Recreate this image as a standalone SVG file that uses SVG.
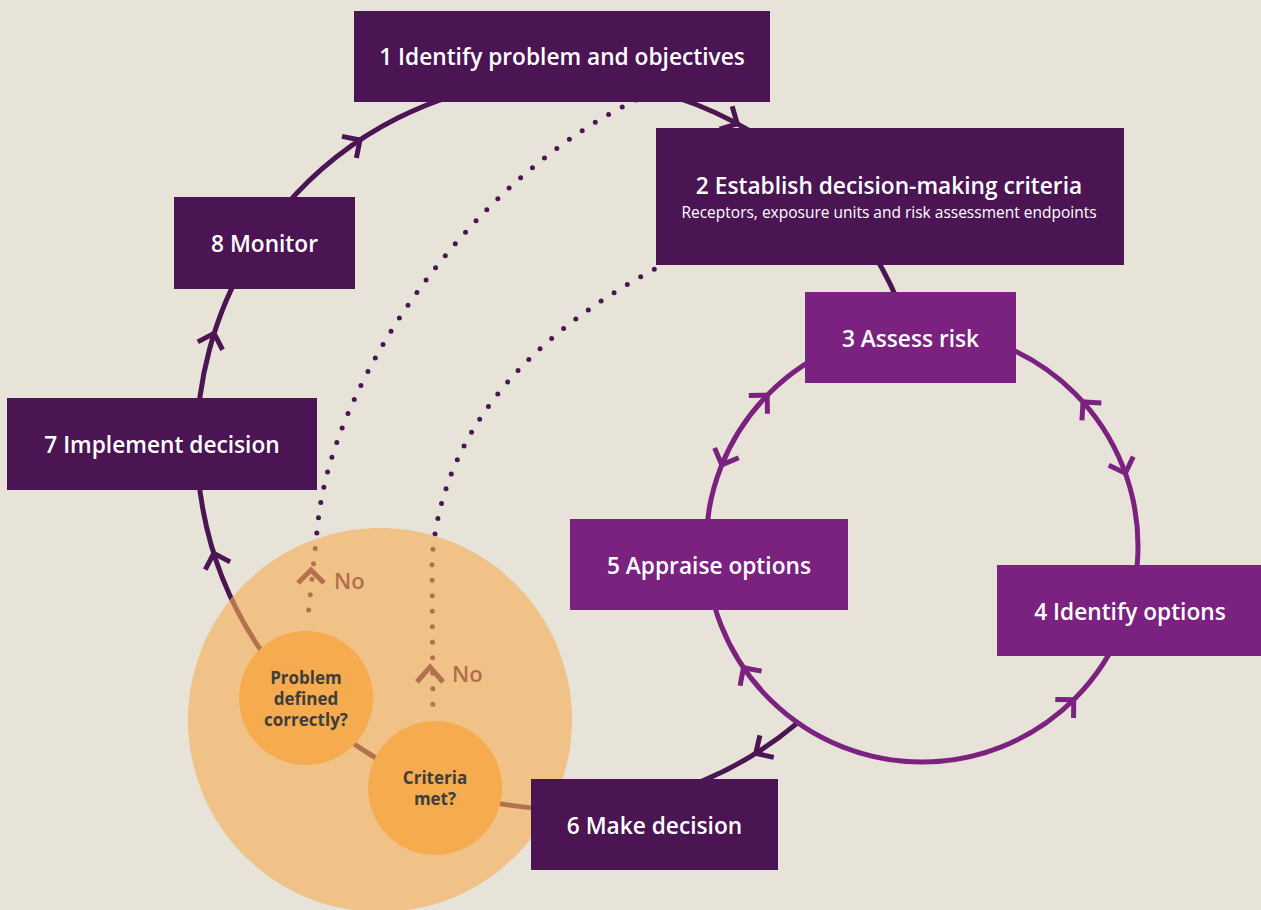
<svg xmlns="http://www.w3.org/2000/svg" xmlns:xlink="http://www.w3.org/1999/xlink" width="1261" height="910" viewBox="0 0 1261 910">
<style>
.bg{fill:#e7e3d8}
.dark{fill:#4b1553}
.purp{fill:#7b2281}
.ttl{font-family:"Open Sans","Liberation Sans",sans-serif;font-weight:600;font-size:22.7px;fill:#ffffff;text-anchor:middle}
.sub{font-family:"Open Sans","Liberation Sans",sans-serif;font-weight:400;font-size:15.5px;fill:#ffffff;text-anchor:middle}
.q{font-family:"Open Sans","Liberation Sans",sans-serif;font-weight:700;font-size:17px;fill:#3d3d3d;text-anchor:middle}
.no{font-family:"Open Sans","Liberation Sans",sans-serif;font-weight:600;font-size:22px;fill:#b36d4e}
.lnd{fill:none;stroke:#4b1553;stroke-width:5}
.lnp{fill:none;stroke:#7b2281;stroke-width:5}
.lnb{fill:none;stroke:#b5714e;stroke-width:5}
.dotd{fill:none;stroke:#4b1553;stroke-width:5;stroke-linecap:round;stroke-dasharray:0 15.5}
.dotb{fill:none;stroke:#b5714e;stroke-width:5;stroke-linecap:round;stroke-dasharray:0 15.5}
.ad{fill:none;stroke:#4b1553;stroke-width:5}
.ap{fill:none;stroke:#7b2281;stroke-width:5}
.ab{fill:none;stroke:#b5714e;stroke-width:5}
</style>
<defs>
<path id="chev" d="M-13,-13 L0,0 L-13,13"/>
<clipPath id="orangeClip"><circle cx="380" cy="720" r="192"/></clipPath>
</defs>
<rect class="bg" x="0" y="0" width="1261" height="910"/>
<g id="connectors">
<path class="lnd" d="M905,319.2 A365,365 0 1 0 796.6,723.6"/>
<circle class="lnp" cx="922" cy="546" r="216"/>
<path id="dot1" class="dotd" d="M636,100 C470,180 333,380 318,522 L307,625"/>
<path id="dot2" class="dotd" d="M668,262 C545,325 442,420 432,560 L433,716"/>
<use href="#chev" class="ad" transform="translate(360,140) rotate(-33.6)"/>
<use href="#chev" class="ad" transform="translate(737.3,123.9) rotate(28.7)"/>
<use href="#chev" class="ad" transform="translate(214.1,333.4) rotate(-72.36)"/>
<use href="#chev" class="ad" transform="translate(213.8,553.4) rotate(252.56)"/>
<use href="#chev" class="ad" transform="translate(755.8,753.3) rotate(147.93)"/>
<use href="#chev" class="ap" transform="translate(767.2,395.3) rotate(-45.75)"/>
<use href="#chev" class="ap" transform="translate(721.8,464.9) rotate(112.05)"/>
<use href="#chev" class="ap" transform="translate(1083,402) rotate(-131.79)"/>
<use href="#chev" class="ap" transform="translate(1125.4,473.2) rotate(70.31)"/>
<use href="#chev" class="ap" transform="translate(743.5,667.7) rotate(235.72)"/>
<use href="#chev" class="ap" transform="translate(1073.7,699.7) rotate(-44.62)"/>
</g>
<g id="decision-zone">
<circle cx="380" cy="720" r="192" fill="#f0c287"/>
<g clip-path="url(#orangeClip)">
<path class="lnb" d="M905,319.2 A365,365 0 1 0 796.6,723.6"/>
<path class="dotb" d="M636,100 C470,180 333,380 318,522 L307,625"/>
<path class="dotb" d="M668,262 C545,325 442,420 432,560 L433,716"/>
</g>
<path class="ab" d="M298,583 L311,570 L324,583"/>
<path class="ab" d="M417,682 L430,667 L443,682"/>
<text class="no" x="334" y="589">No</text>
<text class="no" x="452" y="682">No</text>
</g>
<g id="q1">
<circle cx="306" cy="698" r="67" fill="#f6ab4e"/>
<text class="q" x="306" y="684">Problem</text>
<text class="q" x="306" y="705">defined</text>
<text class="q" x="306" y="726">correctly?</text>
</g>
<g id="q2">
<circle cx="435" cy="788" r="67" fill="#f6ab4e"/>
<text class="q" x="435" y="784">Criteria</text>
<text class="q" x="435" y="805">met?</text>
</g>
<g id="n1"><rect class="dark" x="354" y="11" width="416" height="91"/><text class="ttl" x="562" y="65">1 Identify problem and objectives</text></g>
<g id="n2"><rect class="dark" x="656" y="128" width="468" height="137"/><text class="ttl" x="889" y="194">2 Establish decision-making criteria</text><text class="sub" x="889" y="218">Receptors, exposure units and risk assessment endpoints</text></g>
<g id="n3"><rect class="purp" x="805" y="292" width="211" height="91"/><text class="ttl" x="910.5" y="347">3 Assess risk</text></g>
<g id="n4"><rect class="purp" x="997" y="565" width="264" height="91"/><text class="ttl" x="1130" y="620">4 Identify options</text></g>
<g id="n5"><rect class="purp" x="570" y="519" width="278" height="91"/><text class="ttl" x="709" y="574">5 Appraise options</text></g>
<g id="n6"><rect class="dark" x="531" y="779" width="247" height="91"/><text class="ttl" x="654.5" y="834">6 Make decision</text></g>
<g id="n7"><rect class="dark" x="7" y="398" width="310" height="92"/><text class="ttl" x="162" y="453">7 Implement decision</text></g>
<g id="n8"><rect class="dark" x="174" y="197" width="181" height="92"/><text class="ttl" x="264.5" y="252">8 Monitor</text></g>
</svg>
